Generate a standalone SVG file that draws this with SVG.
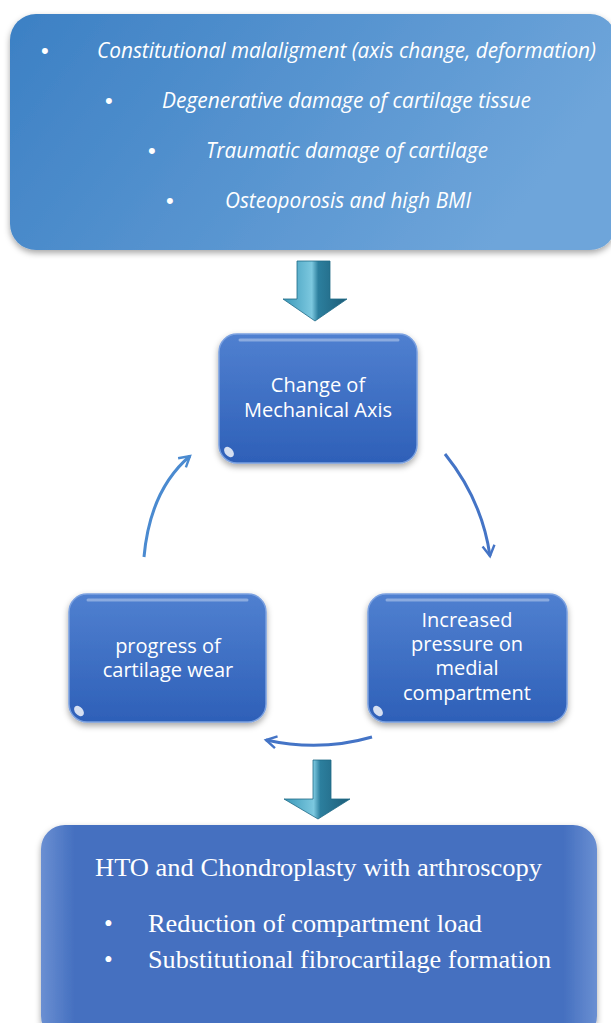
<svg xmlns="http://www.w3.org/2000/svg" width="611" height="1023" viewBox="0 0 611 1023">
<defs>
<linearGradient id="gTop" x1="0" y1="0" x2="1" y2="0.3">
<stop offset="0" stop-color="#3c80c4"/><stop offset="1" stop-color="#6ea5da"/>
</linearGradient>
<linearGradient id="gMid" x1="0" y1="0" x2="0" y2="1">
<stop offset="0" stop-color="#5080d0"/><stop offset="1" stop-color="#2e60b8"/>
</linearGradient>
<linearGradient id="gBot" x1="0" y1="0" x2="1" y2="0">
<stop offset="0" stop-color="#6a8fd2"/><stop offset="0.06" stop-color="#4570c0"/><stop offset="0.94" stop-color="#4570c0"/><stop offset="1" stop-color="#6a8fd2"/>
</linearGradient>
<linearGradient id="gArr" x1="0" y1="0" x2="1" y2="0">
<stop offset="0" stop-color="#3a98b8"/><stop offset="0.45" stop-color="#7cc8df"/><stop offset="0.55" stop-color="#2c7f9e"/><stop offset="1" stop-color="#1d5d78"/>
</linearGradient>
<filter id="sh" x="-10%" y="-10%" width="120%" height="130%">
<feDropShadow dx="0" dy="3" stdDeviation="3" flood-color="#000" flood-opacity="0.35"/>
</filter>
<marker id="ah" viewBox="0 0 10 10" refX="8" refY="5" markerWidth="5" markerHeight="5" orient="auto" markerUnits="strokeWidth">
<path d="M1,1 L8,5 L1,9" fill="none" stroke="context-stroke" stroke-width="1.6"/>
</marker>
</defs>
<style>
.it{font-family:"Open Sans","Liberation Sans",sans-serif;font-style:italic;fill:#fff;font-size:21px}
.bu{font-family:"Liberation Sans",sans-serif;fill:#fff;font-size:22px}
.lb{font-family:"Open Sans","Liberation Sans",sans-serif;fill:#fff;font-size:20px;text-anchor:middle}
.sf{font-family:"Liberation Serif",serif;fill:#fff;font-size:25px}
.hl{fill:none;stroke:#fff;stroke-opacity:0.35;stroke-width:3;stroke-linecap:round}
.spot{fill:#fff;opacity:0.8}
.mid{fill:url(#gMid);stroke:#7aa0e0;stroke-width:1.5}
.arc{fill:none;stroke-width:3;marker-end:url(#ah)}
</style>
<rect width="611" height="1023" fill="#fff"/>

<g id="causes">
<rect x="10" y="14" width="606" height="236" rx="26" fill="url(#gTop)" filter="url(#sh)"/>
<text class="bu" x="41" y="58">•</text>
<text class="it" x="97" y="58" textLength="499" lengthAdjust="spacingAndGlyphs">Constitutional malaligment (axis change, deformation)</text>
<text class="bu" x="105" y="108">•</text>
<text class="it" x="162" y="108" textLength="369" lengthAdjust="spacingAndGlyphs">Degenerative damage of cartilage tissue</text>
<text class="bu" x="148" y="158">•</text>
<text class="it" x="206" y="158" textLength="282" lengthAdjust="spacingAndGlyphs">Traumatic damage of cartilage</text>
<text class="bu" x="166" y="208">•</text>
<text class="it" x="225" y="208" textLength="246" lengthAdjust="spacingAndGlyphs">Osteoporosis and high BMI</text>
</g>

<g id="arrow1">
<path d="M297,261 L330,261 L330,299 L347,299 L315,321 L283,299 L297,299 Z" fill="url(#gArr)" stroke="#1f6a86" stroke-width="0.8"/>
</g>

<g id="change">
<rect class="mid" x="219" y="334" width="198" height="129" rx="18" filter="url(#sh)"/>
<line class="hl" x1="240" y1="340" x2="398" y2="340"/>
<ellipse class="spot" cx="229" cy="452" rx="4" ry="6" transform="rotate(-40 229 452)"/>
<text class="lb" x="318" y="392">Change of</text>
<text class="lb" x="318" y="417">Mechanical Axis</text>
</g>

<g id="progress">
<rect class="mid" x="69" y="594" width="197" height="128" rx="18" filter="url(#sh)"/>
<line class="hl" x1="88" y1="600" x2="247" y2="600"/>
<ellipse class="spot" cx="79" cy="711" rx="4" ry="6" transform="rotate(-40 79 711)"/>
<text class="lb" x="168" y="653">progress of</text>
<text class="lb" x="168" y="677">cartilage wear</text>
</g>

<g id="pressure">
<rect class="mid" x="368" y="594" width="199" height="128" rx="18" filter="url(#sh)"/>
<line class="hl" x1="387" y1="600" x2="548" y2="600"/>
<ellipse class="spot" cx="378" cy="711" rx="4" ry="6" transform="rotate(-40 378 711)"/>
<text class="lb" x="467" y="627">Increased</text>
<text class="lb" x="467" y="651">pressure on</text>
<text class="lb" x="467" y="675">medial</text>
<text class="lb" x="467" y="700">compartment</text>
</g>

<g id="connectors">
<path class="arc" stroke="#4a8ad0" d="M144,557 Q150,490 190,456"/>
<path class="arc" stroke="#4474c6" d="M445,454 Q482,500 490,556"/>
<path class="arc" stroke="#4474c6" d="M372,737 Q320,752 266,740"/>
</g>

<g id="arrow2">
<path d="M313,760 L331,760 L331,799 L350,799 L318,819 L284,799 L313,799 Z" fill="url(#gArr)" stroke="#1f6a86" stroke-width="0.8"/>
</g>

<g id="treatment">
<rect x="41" y="825" width="556" height="215" rx="24" fill="url(#gBot)" filter="url(#sh)"/>
<text class="sf" x="95" y="876" textLength="447" lengthAdjust="spacingAndGlyphs">HTO and Chondroplasty with arthroscopy</text>
<text class="sf" x="104" y="932">•</text>
<text class="sf" x="148" y="932" textLength="334" lengthAdjust="spacingAndGlyphs">Reduction of compartment load</text>
<text class="sf" x="104" y="968">•</text>
<text class="sf" x="148" y="968" textLength="403" lengthAdjust="spacingAndGlyphs">Substitutional fibrocartilage formation</text>
</g>
</svg>
